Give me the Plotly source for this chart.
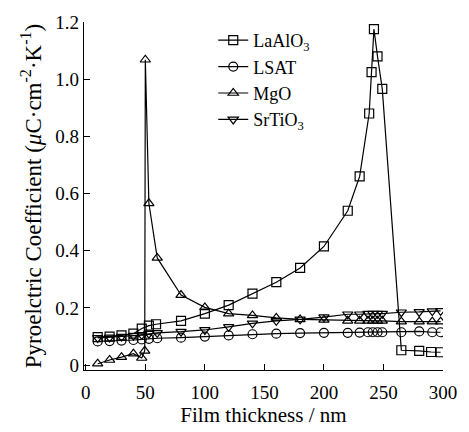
import plotly.graph_objects as go

# ---- data ----
la_x = [10, 20, 30, 40, 47, 53, 59, 80, 100, 120, 140, 160, 180, 200, 220, 230, 238, 240, 242, 245, 249, 265, 280, 290, 298]
la_y = [0.098, 0.100, 0.104, 0.110, 0.128, 0.138, 0.143, 0.155, 0.180, 0.210, 0.250, 0.290, 0.340, 0.415, 0.540, 0.660, 0.880, 1.025, 1.175, 1.080, 0.966, 0.052, 0.050, 0.046, 0.045]

lsat_x = [10, 20, 30, 40, 47, 53, 60, 80, 100, 120, 140, 160, 180, 200, 220, 230, 237, 241, 245, 249, 265, 280, 291, 298]
lsat_y = [0.083, 0.084, 0.086, 0.088, 0.090, 0.092, 0.094, 0.096, 0.100, 0.104, 0.108, 0.110, 0.112, 0.113, 0.113, 0.114, 0.115, 0.115, 0.115, 0.115, 0.115, 0.118, 0.115, 0.115]

mgo_x = [10, 20, 30, 40, 47, 49.5, 50, 53, 60, 80, 100, 120, 140, 160, 180, 200, 220, 230, 237, 241, 245, 249, 265, 280, 291, 298]
mgo_y = [0.005, 0.018, 0.028, 0.040, 0.025, 0.050, 1.068, 0.566, 0.375, 0.245, 0.202, 0.180, 0.174, 0.165, 0.160, 0.158, 0.155, 0.155, 0.155, 0.155, 0.155, 0.155, 0.152, 0.152, 0.152, 0.152]

sto_x = [10, 20, 30, 40, 47, 53, 60, 80, 100, 120, 140, 160, 180, 200, 220, 230, 237, 241, 245, 249, 265, 280, 291, 298]
sto_y = [0.095, 0.097, 0.100, 0.103, 0.106, 0.110, 0.113, 0.117, 0.123, 0.134, 0.146, 0.155, 0.160, 0.168, 0.178, 0.178, 0.180, 0.180, 0.180, 0.180, 0.185, 0.186, 0.189, 0.190]

names = ["LaAlO<sub>3</sub>", "LSAT", "MgO", "SrTiO<sub>3</sub>"]
symbols = ["square-open", "circle-open", "triangle-up-open", "triangle-down-open"]

x_ticks = [0, 50, 100, 150, 200, 250, 300]
y_ticks = [0, 0.2, 0.4, 0.6, 0.8, 1.0, 1.2]
y_tick_text = ["0", "0.2", "0.4", "0.6", "0.8", "1.0", "1.2"]

FONT = "Liberation Serif, Times New Roman, serif"

fig = go.Figure()
series = [(la_x, la_y), (lsat_x, lsat_y), (mgo_x, mgo_y), (sto_x, sto_y)]
for (xs, ys), name, sym in zip(series, names, symbols):
    fig.add_trace(go.Scatter(
        x=xs, y=ys, name=name, mode="lines+markers",
        line=dict(color="black", width=1.2),
        marker=dict(symbol=sym, size=9, color="black", line=dict(color="black", width=1.2)),
    ))

fig.update_layout(
    width=469, height=432,
    margin=dict(l=84, r=21, t=13, b=58),
    paper_bgcolor="white", plot_bgcolor="white",
    font=dict(family=FONT, size=19, color="black"),
    showlegend=True,
    legend=dict(x=0.36, y=1.0, xanchor="left", yanchor="top",
                font=dict(family=FONT, size=18, color="black"),
                bgcolor="rgba(0,0,0,0)", tracegroupgap=0),
    xaxis=dict(range=[-1.5, 300], tickmode="array", tickvals=x_ticks,
               ticks="inside", ticklen=6, tickcolor="black", tickwidth=1.2,
               showline=True, linecolor="black", linewidth=1.2,
               showgrid=False, zeroline=False, ticklabelstandoff=5,
               title=dict(text="Film thickness / nm", font=dict(size=21), standoff=2),
               tickfont=dict(size=19)),
    yaxis=dict(range=[-0.017, 1.2], tickmode="array", tickvals=y_ticks, ticktext=y_tick_text,
               ticks="inside", ticklen=6, tickcolor="black", tickwidth=1.2,
               showline=True, linecolor="black", linewidth=1.2,
               showgrid=False, zeroline=False,
               title=dict(text="Pyroelctric Coefficient (<i>μ</i>C·cm<sup>-2</sup>·K<sup>-1</sup>)",
                          font=dict(size=23), standoff=7),
               tickfont=dict(size=19)),
)

fig.write_html("out.html")
